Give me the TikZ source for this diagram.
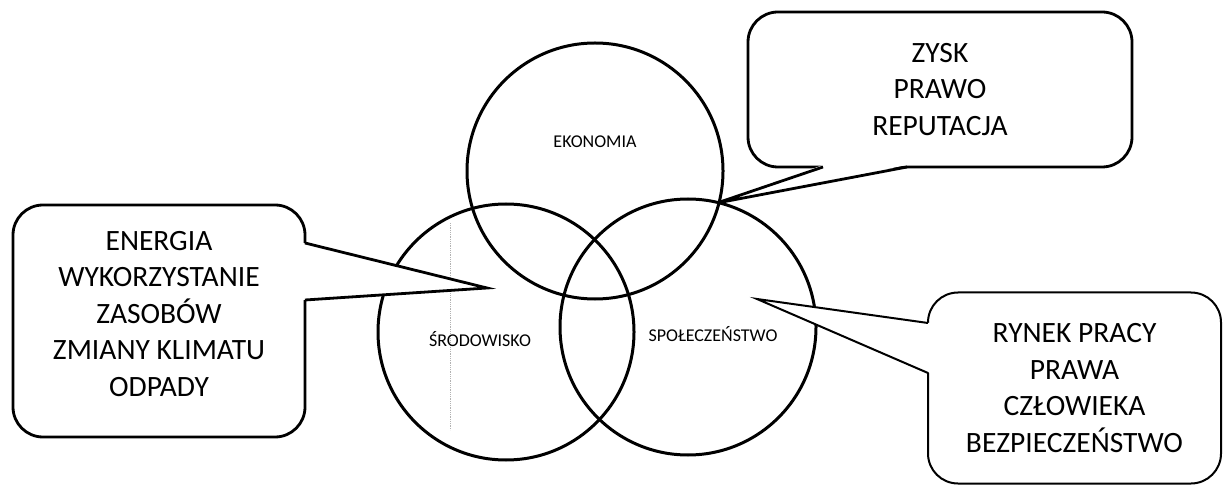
\documentclass[tikz,border=0pt]{standalone}
\usepackage{fontspec}
\setmainfont{Carlito}
\usepackage{tikz}
\tikzstyle{krag} = [draw=black, line width=3pt, circle, minimum size=256pt,
inner sep=0pt]
\tikzstyle{etykieta} = [font=\fontsize{18}{21}\selectfont]
\tikzstyle{tekst} = [align=center, font=\fontsize{29.5}{36.5}\selectfont]
\tikzstyle{dymek} = [draw=black, fill=white, line width=2.8pt, rectangle,
rounded corners=30pt, outer sep=0pt, tekst]
\tikzstyle{ogon} = [draw=black, line width=2.8pt]

\begin{document}
\begin{tikzpicture}[x=1pt, y=-1pt]
		\useasboundingbox (0,0) rectangle (1223,486);
		% trzy kola
		\node [krag] (ekonomia) at (595,171) {};
		\node [krag] (srodowisko) at (506,332) {};
		\node [krag] (spoleczenstwo) at (688,327) {};
		\draw [gray!60, densely dotted, line width=0.8pt] (450,223) -- (450,430);
		\node [etykieta] (ekon) at (595,142) {EKONOMIA};
		\node [etykieta] (srod) at (480,339) {ŚRODOWISKO};
		\node [etykieta] (spol) at (713,334) {SPOŁECZEŃSTWO};

		% dymki
		\node [dymek, minimum width=292pt, minimum height=232pt] (lewy) at (159,321) {};
		\node [tekst] (lewyTekst) at ([yshift=7pt]lewy.center)
			{ENERGIA\\WYKORZYSTANIE\\ZASOBÓW\\ZMIANY KLIMATU\\ODPADY};
		\node [dymek, minimum width=384pt, minimum height=155pt] (gorny) at (940,89.5)
			{ZYSK\\PRAWO\\REPUTACJA};
		\node [dymek, line width=2pt, minimum width=293pt, minimum height=191pt] (prawy) at (1074.5,388)
			{RYNEK PRACY\\PRAWA\\CZŁOWIEKA\\BEZPIECZEŃSTWO};

		% ogony dymkow
		\coordinate (lewyGrot) at (487,288);
		\coordinate (gornyGrot) at (717,203);
		\coordinate (prawyGrot) at (757,299);
		\fill [white] ([xshift=-2pt, yshift=78pt]lewy.east) -- (lewyGrot)
			-- ([xshift=-2pt, yshift=21pt]lewy.east) -- cycle;
		\draw [ogon] ([yshift=78pt]lewy.east) -- (lewyGrot) -- ([yshift=21pt]lewy.east);
		\fill [white] ([xshift=-117pt, yshift=2pt]gorny.south) -- (gornyGrot)
			-- ([xshift=-33pt, yshift=2pt]gorny.south) -- cycle;
		\draw [ogon] ([xshift=-117pt]gorny.south) -- (gornyGrot) -- ([xshift=-33pt]gorny.south);
		\fill [white] ([xshift=2pt, yshift=65pt]prawy.west) -- (prawyGrot)
			-- ([xshift=2pt, yshift=15pt]prawy.west) -- cycle;
		\draw [ogon, line width=2pt] ([yshift=65pt]prawy.west) -- (prawyGrot) -- ([yshift=15pt]prawy.west);
\end{tikzpicture}
\end{document}
